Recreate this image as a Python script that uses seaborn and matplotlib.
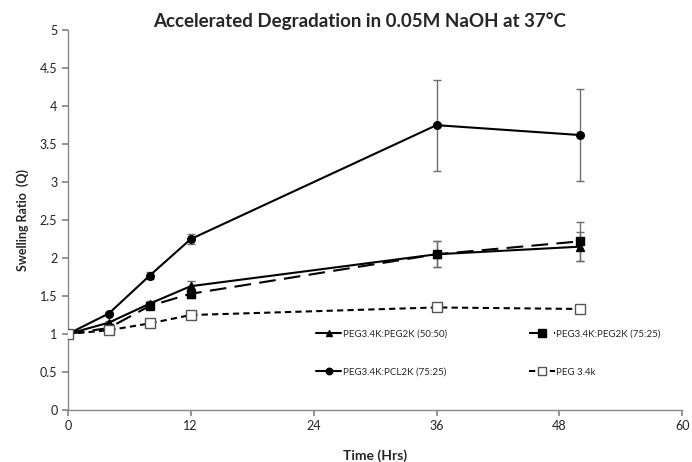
import matplotlib
matplotlib.use("Agg")
import matplotlib.pyplot as plt
import seaborn as sns
import pandas as pd
import numpy as np

sns.set_theme(style="white")
plt.rcParams["font.family"] = ["Lato", "DejaVu Sans"]

time_hrs = [0, 4, 8, 12, 36, 50]

peg_pcl_7525 = [1.0, 1.27, 1.77, 2.25, 3.75, 3.62]
peg_pcl_7525_err = [0.02, 0.02, 0.05, 0.07, 0.60, 0.60]

peg_peg_5050 = [1.0, 1.15, 1.40, 1.63, 2.05, 2.15]
peg_peg_5050_err = [0.02, 0.02, 0.04, 0.07, 0.17, 0.19]

peg_peg_7525 = [1.0, 1.08, 1.37, 1.53, 2.05, 2.22]
peg_peg_7525_err = [0.02, 0.03, 0.04, 0.05, 0.17, 0.26]

peg_34k = [1.0, 1.05, 1.14, 1.25, 1.35, 1.33]
peg_34k_err = [0.02, 0.03, 0.04, 0.05, 0.04, 0.04]

series = [
    ("PEG3.4K:PEG2K (50:50)", peg_peg_5050, peg_peg_5050_err, "^", None, "black", 5.5),
    ("PEG3.4K:PEG2K (75:25)", peg_peg_7525, peg_peg_7525_err, "s", (8, 4), "black", 6),
    ("PEG3.4K:PCL2K (75:25)", peg_pcl_7525, peg_pcl_7525_err, "o", None, "black", 5.5),
    ("PEG 3.4k", peg_34k, peg_34k_err, "s", (3, 2), "white", 7),
]

fig = plt.figure(figsize=(6.92, 4.62), dpi=100)
ax = fig.add_axes([0.098, 0.1126, 0.888, 0.822])

for name, vals, errs, mk, dash, face, ms in series:
    df = pd.DataFrame({"Time": time_hrs, "Q": vals})
    ax.errorbar(time_hrs, vals, yerr=errs, fmt="none", ecolor="#6e6e6e",
                elinewidth=1.0, capsize=3, capthick=1.0, zorder=2)
    kw = {}
    if dash is not None:
        kw["dashes"] = dash
    sns.lineplot(data=df, x="Time", y="Q", ax=ax, color="black", lw=1.5,
                 marker=mk, markersize=ms, markerfacecolor=face,
                 markeredgecolor="black" if face == "black" else "#555555",
                 markeredgewidth=1.0, label=name, zorder=3, **kw)

ax.set_xlim(0, 60)
ax.set_ylim(0, 5)
ax.set_xticks(np.arange(0, 61, 12))
ax.set_yticks(np.arange(0, 5.01, 0.5))
ax.set_yticklabels([f"{v:g}" for v in np.arange(0, 5.01, 0.5)])
ax.tick_params(axis="both", labelsize=9, length=4, direction="out", color="#888888",
               bottom=True, left=True, colors="#222222")
for side in ["top", "right"]:
    ax.spines[side].set_visible(False)
for side in ["left", "bottom"]:
    ax.spines[side].set_color("#888888")
    ax.spines[side].set_linewidth(1.0)

ax.set_xlabel("Time (Hrs)", fontsize=10, fontweight="bold", labelpad=12)
ax.set_ylabel("Swelling Ratio  (Q)", fontsize=9, fontweight="bold", labelpad=8)
fig.text(0.52, 0.955, "Accelerated Degradation in 0.05M NaOH at 37°C",
         ha="center", va="center", fontsize=13.5, fontweight="bold")

# legend filled row by row: (50:50, 75:25) on top, (PCL, PEG 3.4k) below
handles, labels = ax.get_legend_handles_labels()
order = [0, 2, 1, 3]
ax.legend([handles[i] for i in order], [labels[i] for i in order],
          loc="lower left", bbox_to_anchor=(0.39, 0.065), ncol=2, frameon=False,
          fontsize=7, handlelength=2.6, columnspacing=8.4, labelspacing=3.0,
          handletextpad=0.2, markerscale=0.85)

fig.savefig("out.png", dpi=100)
